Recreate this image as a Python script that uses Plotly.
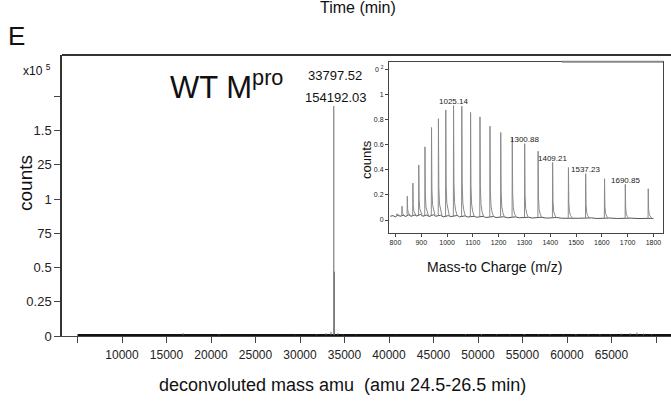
import plotly.graph_objects as go

# ---------------- data ----------------
# main deconvoluted spectrum (counts in units of 1e5)
main_base_mass = [5000, 71700]
main_base_counts = [0.006, 0.006]
main_peak_mass = [16850, 20900, 29440, 31870, 32920, 33480, 33797.52, 33850, 34240, 34840,
                  36300, 40800, 45500, 48600, 50400, 52100, 53600, 55200, 56800, 58100,
                  59600, 61000, 62400, 63700, 64900, 66100, 67100, 67850, 68600, 69500]
main_peak_counts = [0.02, 0.015, 0.01, 0.012, 0.02, 0.03, 1.68, 0.47, 0.02, 0.012,
                    0.01, 0.008, 0.01, 0.012, 0.015, 0.012, 0.01, 0.015, 0.012, 0.015,
                    0.01, 0.015, 0.012, 0.015, 0.012, 0.018, 0.02, 0.025, 0.018, 0.012]
main_x_ticks = [5000, 10000, 15000, 20000, 25000, 30000, 35000, 40000,
                45000, 50000, 55000, 60000, 65000, 70000]
main_x_ticktext = ["", "10000", "15000", "20000", "25000", "30000", "35000", "40000",
                   "45000", "50000", "55000", "60000", "65000", ""]
main_y_ticks = [0, 0.25, 0.5, 0.75, 1, 1.25, 1.5, 1.75]
main_y_ticktext = ["0", "0.25", "0.5", "75", "1", "25", "1.5", ""]
main_labels = ["33797.52", "154192.03"]

# inset m/z spectrum
inset_base_mz = [780, 790, 800, 810, 818, 830, 840, 852, 860, 875, 882, 898, 905, 922, 930,
                 948, 955, 975, 985, 1005, 1015, 1040, 1048, 1070, 1080, 1105, 1115, 1140,
                 1150, 1180, 1190, 1220, 1235, 1265, 1280, 1315, 1330, 1365, 1385, 1425,
                 1445, 1490, 1510, 1560, 1580, 1630, 1660, 1710, 1740, 1790, 1800]
inset_base_val = [0.03, 0.035, 0.025, 0.04, 0.03, 0.038, 0.028, 0.042, 0.03, 0.04, 0.032,
                  0.045, 0.03, 0.04, 0.028, 0.042, 0.03, 0.038, 0.025, 0.035, 0.028, 0.036,
                  0.025, 0.033, 0.024, 0.03, 0.022, 0.03, 0.02, 0.028, 0.02, 0.026, 0.018,
                  0.025, 0.018, 0.022, 0.016, 0.022, 0.015, 0.02, 0.014, 0.018, 0.014,
                  0.017, 0.012, 0.016, 0.012, 0.015, 0.012, 0.013, 0.012]
inset_peak_mz = [805.7, 825.3, 845.9, 867.6, 890.4, 914.4, 939.8, 966.6, 995.1, 1025.2,
                 1057.2, 1091.2, 1127.6, 1166.4, 1208.1, 1252.8, 1300.9, 1352.9, 1409.2,
                 1470.5, 1537.3, 1610.4, 1690.9, 1779.8]
inset_peak_h = [0.05, 0.11, 0.19, 0.295, 0.44, 0.585, 0.74, 0.81, 0.88, 0.915,
                0.91, 0.86, 0.825, 0.75, 0.70, 0.66, 0.61, 0.55, 0.46, 0.42,
                0.37, 0.33, 0.285, 0.25]
inset_label_mz = [1025.14, 1300.88, 1409.21, 1537.23, 1690.85]
inset_label_h = [0.915, 0.61, 0.46, 0.37, 0.285]
inset_x_ticks = [800, 900, 1000, 1100, 1200, 1300, 1400, 1500, 1600, 1700, 1800]
inset_y_ticks = [0, 0.2, 0.4, 0.6, 0.8, 1, 1.2]
inset_y_ticktext = ["0", "0.2", "0.4", "0.6", "0.8", "1", "0 <sup>2</sup>"]

# ---------------- styles ----------------
W, H = 671, 402
L, R, T, B = 62, 0, 55, 66
PW, PH = W - L - R, H - T - B
FONT = "Liberation Sans, Arial, sans-serif"


def px(x):
    return (x - L) / PW


def py(y):
    return (H - B - y) / PH


def interp(x, xs, ys):
    for i in range(len(xs) - 1):
        if xs[i] <= x <= xs[i + 1]:
            t = (x - xs[i]) / (xs[i + 1] - xs[i])
            return ys[i] + t * (ys[i + 1] - ys[i])
    return ys[-1]


fig = go.Figure()

# main baseline
fig.add_trace(go.Scatter(x=main_base_mass, y=main_base_counts, mode="lines",
                         line=dict(color="#111", width=2.5), hoverinfo="skip",
                         showlegend=False))
# main spikes
sx, sy = [], []
for m, c in zip(main_peak_mass, main_peak_counts):
    sx += [m, m, None]
    sy += [main_base_counts[0], c, None]
fig.add_trace(go.Scatter(x=sx, y=sy, mode="lines", line=dict(color="#666", width=1),
                         hoverinfo="skip", showlegend=False))

# inset baseline
fig.add_trace(go.Scatter(x=inset_base_mz, y=inset_base_val, mode="lines",
                         line=dict(color="#555", width=1), xaxis="x2", yaxis="y2",
                         hoverinfo="skip", showlegend=False))
# inset peaks with short right tail
TAIL = [(0.0, 1.0), (1.5, 0.3), (4.0, 0.12), (8.0, 0.05), (14.0, 0.0)]
ix, iy = [], []
for m, h in zip(inset_peak_mz, inset_peak_h):
    b0 = interp(m, inset_base_mz, inset_base_val)
    ix.append(m - 0.8)
    iy.append(b0)
    for dx, f in TAIL:
        b = interp(m + dx, inset_base_mz, inset_base_val)
        ix.append(m + dx)
        iy.append(b + f * (h - b))
    ix.append(None)
    iy.append(None)
fig.add_trace(go.Scatter(x=ix, y=iy, mode="lines", line=dict(color="#8a8a8a", width=1),
                         xaxis="x2", yaxis="y2", hoverinfo="skip", showlegend=False))

# ---------------- layout ----------------
inset_x0, inset_x1 = px(389), px(663)
inset_y0, inset_y1 = py(233), py(61.7)

fig.update_layout(
    width=W, height=H, margin=dict(l=L, r=R, t=T, b=B),
    paper_bgcolor="white", plot_bgcolor="white",
    font=dict(family=FONT, color="#111"),
    xaxis=dict(range=[3258, 71685], tickvals=main_x_ticks, ticktext=main_x_ticktext,
               ticks="outside", ticklen=6, tickcolor="#444", showline=True,
               linecolor="#444", linewidth=1, showgrid=False, zeroline=False,
               tickfont=dict(family=FONT, size=12, color="#222"), ticklabelstandoff=2),
    yaxis=dict(range=[0, 2.053], tickvals=main_y_ticks, ticktext=main_y_ticktext,
               ticks="outside", ticklen=6, tickcolor="#444", showline=True,
               linecolor="#333", linewidth=1.5, showgrid=False, zeroline=False,
               tickfont=dict(family=FONT, size=13, color="#222")),
    xaxis2=dict(domain=[inset_x0, inset_x1], anchor="y2", range=[775, 1837],
                tickvals=inset_x_ticks, ticks="outside", ticklen=3, tickcolor="#444",
                showline=True, mirror=True, linecolor="#444", linewidth=1,
                showgrid=False, zeroline=False,
                tickfont=dict(family=FONT, size=7, color="#222")),
    yaxis2=dict(domain=[inset_y0, inset_y1], anchor="x2", range=[-0.104, 1.266],
                tickvals=inset_y_ticks, ticktext=inset_y_ticktext, ticks="outside",
                ticklen=3, tickcolor="#444", showline=True, mirror=True,
                linecolor="#444", linewidth=1, showgrid=False, zeroline=False,
                tickfont=dict(family=FONT, size=7, color="#222")),
)

# top frame line of main plot
fig.add_shape(type="line", xref="paper", yref="paper", x0=0, x1=1, y0=1, y1=1,
              line=dict(color="#333", width=2))
# thicker grey segment on the right of the inset's top edge
fig.add_shape(type="line", xref="paper", yref="paper", x0=px(562), x1=inset_x1,
              y0=inset_y1, y1=inset_y1, line=dict(color="#888", width=2))

ann = []


def a(text, x, y, size, **kw):
    d = dict(text=text, x=px(x), y=py(y), xref="paper", yref="paper",
             xanchor="center", yanchor="middle",
             showarrow=False, font=dict(size=size, family=FONT, color="#111"))
    d.update(kw)
    ann.append(d)


a("E", 16, 36, 26)
a("Time (min)", 358, 7, 16)
a("x10 <sup>5</sup>", 37, 70, 12)
a("counts", 25, 183, 19, textangle=-90)
a("WT M<sup>pro</sup>", 168, 85, 31, xanchor="left")
a(main_labels[0], 335, 75, 13)
a(main_labels[1], 335, 97, 13)
a("deconvoluted mass amu\u00a0\u00a0(amu 24.5-26.5 min)", 342, 385, 18)
a("counts", 366, 160, 13, textangle=-90)
a("Mass-to Charge (m/z)", 494, 267, 14)

for m, h in zip(inset_label_mz, inset_label_h):
    ann.append(dict(text=f"{m:.2f}", x=m, y=h - 0.02, xref="x2", yref="y2",
                    xanchor="center", yanchor="bottom", showarrow=False,
                    font=dict(size=8, family=FONT, color="#222")))

fig.update_layout(annotations=ann)
fig.write_html("out.html", config={"displayModeBar": False},
               post_script="document.body.style.margin='0px';")
